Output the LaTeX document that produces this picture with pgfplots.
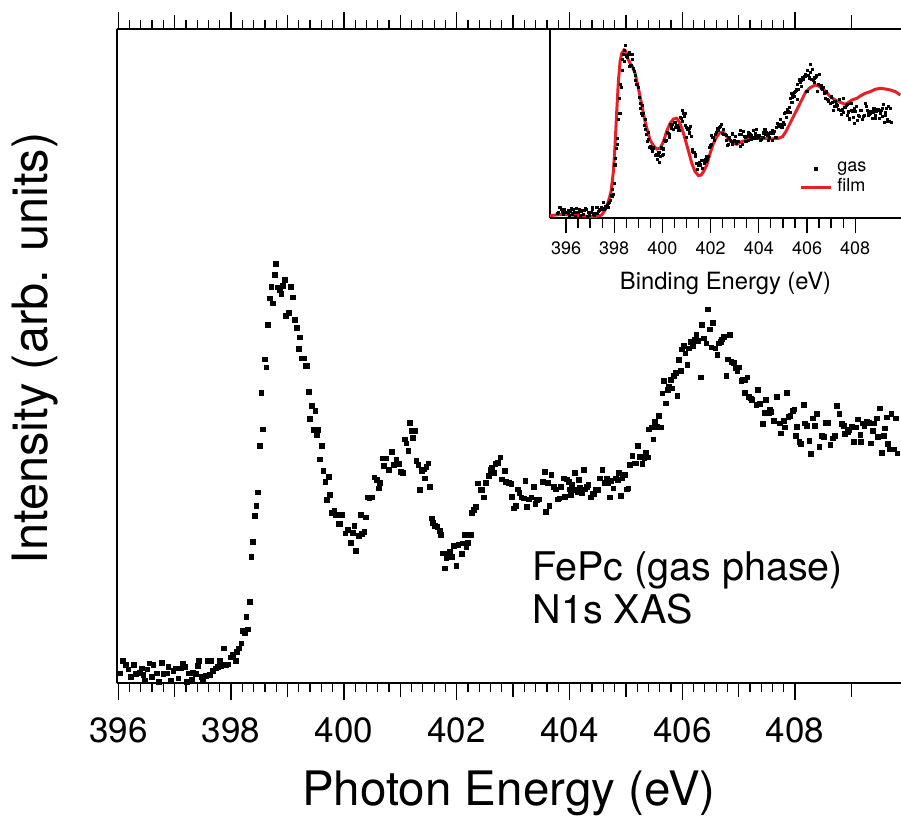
\documentclass[border=0pt]{standalone}
\usepackage{fontspec}
\setmainfont{TeX Gyre Heros}
\usepackage{pgfplots}
\usepackage{pgfplotstable}
\pgfplotsset{compat=1.18}
\definecolor{filmred}{RGB}{232,32,38}
\pgfplotsset{
  gaslegend/.style={legend image code/.code={%
    \draw[mark repeat=2, mark phase=2, ##1, mark size=0.6pt]
      plot coordinates {(0pt,0pt) (6pt,0pt) (12pt,0pt)};}},
  filmlegend/.style={legend image code/.code={%
    \draw[##1] (0pt,0pt) -- (12pt,0pt);}},
}

% gas-phase N1s XAS (photon energy, intensity)
\pgfplotstableread{
x y
395.965 0.070
396.035 0.097
396.082 0.223
396.141 0.180
396.183 0.137
396.224 0.063
396.283 0.180
396.318 0.090
396.389 0.103
396.418 0.147
396.448 0.080
396.477 0.023
396.518 0.137
396.554 0.197
396.595 0.063
396.624 0.180
396.683 0.097
396.724 0.010
396.771 0.203
396.801 0.090
396.860 0.097
396.889 0.163
396.930 0.023
396.978 0.123
397.025 0.147
397.066 0.047
397.107 0.147
397.143 0.197
397.184 0.163
397.225 0.010
397.260 0.097
397.302 0.030
397.331 0.103
397.378 0.090
397.419 0.170
397.437 0.223
397.478 0.063
397.508 0.023
397.555 0.070
397.596 0.223
397.625 0.080
397.655 0.223
397.684 0.123
397.731 0.147
397.773 0.163
397.802 0.223
397.832 0.170
397.873 0.347
397.908 0.180
397.949 0.187
397.991 0.257
398.038 0.280
398.085 0.223
398.108 0.313
398.144 0.347
398.185 0.397
398.214 0.523
398.244 0.497
398.273 0.663
398.303 0.537
398.332 0.813
398.362 1.263
398.391 1.413
398.420 1.673
398.450 1.773
398.479 1.907
398.509 2.373
398.538 2.903
398.568 2.537
398.597 3.237
398.627 3.157
398.656 3.580
398.686 3.847
398.715 3.963
398.744 3.797
398.774 4.080
398.803 4.190
398.833 3.957
398.862 3.930
398.892 3.890
398.921 3.970
398.951 4.030
398.980 3.670
399.027 3.703
399.068 3.963
399.098 3.857
399.133 3.630
399.168 3.553
399.204 3.340
399.227 3.457
399.263 3.247
399.292 3.247
399.322 3.173
399.345 3.173
399.375 2.913
399.404 2.640
399.434 2.773
399.463 2.530
399.498 2.720
399.522 2.480
399.551 2.530
399.580 2.237
399.616 2.370
399.640 2.123
399.675 2.013
399.698 1.830
399.734 2.063
399.757 1.880
399.793 1.703
399.834 1.723
399.863 1.680
399.910 1.590
399.934 1.590
399.969 1.680
400.028 1.497
400.070 1.530
400.128 1.403
400.158 1.503
400.187 1.570
400.217 1.323
400.264 1.470
400.305 1.680
400.323 1.490
400.364 1.513
400.393 1.657
400.423 1.857
400.452 1.847
400.499 1.857
400.541 2.057
400.582 2.030
400.617 1.947
400.641 2.003
400.688 2.247
400.717 2.170
400.747 2.247
400.806 2.130
400.853 2.313
400.894 2.180
400.935 2.230
400.982 2.190
401.012 2.113
401.053 2.103
401.088 2.437
401.112 2.397
401.147 2.323
401.171 2.603
401.206 2.523
401.230 2.453
401.265 2.523
401.288 2.223
401.324 2.180
401.347 1.930
401.382 2.123
401.424 2.137
401.442 2.047
401.465 2.163
401.501 2.197
401.524 1.963
401.560 1.647
401.583 1.603
401.618 1.570
401.660 1.563
401.702 1.523
401.719 1.480
401.760 1.297
401.795 1.147
401.819 1.247
401.854 1.290
401.878 1.313
401.913 1.263
401.954 1.370
401.996 1.170
402.031 1.380
402.090 1.290
402.114 1.397
402.148 1.480
402.172 1.363
402.207 1.403
402.249 1.480
402.278 1.703
402.307 1.730
402.349 1.763
402.384 1.997
402.425 1.930
402.455 1.930
402.484 1.857
402.525 2.003
402.572 2.070
402.602 2.130
402.631 2.157
402.661 2.103
402.690 2.190
402.737 2.203
402.779 2.257
402.808 2.037
402.855 2.123
402.879 2.013
402.926 2.003
402.973 1.990
402.985 1.863
403.014 1.747
403.055 1.770
403.091 1.937
403.114 1.903
403.149 1.857
403.191 1.847
403.220 2.023
403.250 1.763
403.279 1.837
403.326 1.857
403.367 1.963
403.397 1.790
403.426 1.830
403.468 1.837
403.527 2.013
403.562 2.113
403.585 1.713
403.620 2.003
403.644 1.770
403.679 2.080
403.721 1.963
403.762 1.937
403.797 1.837
403.821 1.847
403.856 1.963
403.897 2.047
403.915 1.863
403.956 2.037
403.986 2.013
403.998 1.937
404.033 1.880
404.045 1.980
404.092 2.103
404.104 1.930
404.151 1.913
404.174 2.030
404.192 1.957
404.221 1.903
404.251 2.130
404.280 1.937
404.310 1.963
404.339 1.980
404.386 1.857
404.410 1.897
404.445 1.890
404.468 1.937
404.516 1.930
404.545 2.047
404.586 2.130
404.622 2.003
404.663 2.047
404.692 1.997
404.722 1.857
404.739 2.023
404.781 1.947
404.822 2.047
404.857 2.030
404.881 2.103
404.916 1.870
404.940 2.047
404.987 2.080
405.016 1.937
405.046 1.947
405.075 2.180
405.117 2.270
405.152 2.197
405.175 2.197
405.211 2.370
405.252 2.263
405.293 2.190
405.329 2.247
405.352 2.303
405.387 2.257
405.411 2.537
405.458 2.557
405.488 2.437
405.517 2.613
405.547 2.563
405.588 2.670
405.623 2.557
405.647 2.897
405.682 3.023
405.706 2.797
405.741 2.930
405.764 2.963
405.800 3.030
405.823 2.947
405.859 3.070
405.882 3.103
405.917 2.870
405.941 3.230
405.976 3.123
406.000 3.337
406.035 3.370
406.058 3.297
406.094 3.180
406.117 3.347
406.153 3.413
406.194 3.370
406.223 3.430
406.253 3.480
406.282 3.423
406.329 3.057
406.353 3.580
406.388 3.447
406.429 3.397
406.459 3.737
406.488 3.537
406.517 3.357
406.547 3.603
406.588 3.347
406.623 3.280
406.648 3.397
406.683 3.413
406.707 3.437
406.742 3.463
406.783 3.070
406.813 3.237
406.842 3.480
406.872 3.213
406.919 3.203
406.943 3.147
406.978 3.123
407.001 3.157
407.048 3.023
407.078 3.037
407.107 2.903
407.119 3.030
407.154 3.057
407.178 2.863
407.213 2.847
407.237 2.830
407.314 2.780
407.343 2.930
407.372 2.790
407.431 2.590
407.472 2.703
407.490 2.830
407.531 2.703
407.549 2.737
407.578 2.713
407.625 2.623
407.684 2.863
407.726 2.597
407.755 2.497
407.802 2.623
407.826 2.557
407.861 2.903
407.885 2.663
407.920 2.670
407.961 2.723
407.991 2.737
408.020 2.470
408.038 2.563
408.079 2.413
408.109 2.390
408.156 2.780
408.180 2.597
408.215 2.570
408.256 2.423
408.286 2.290
408.315 2.647
408.357 2.570
408.392 2.690
408.433 2.363
408.474 2.470
408.510 2.463
408.551 2.603
408.592 2.603
408.628 2.380
408.669 2.447
408.710 2.470
408.746 2.770
408.787 2.690
408.828 2.590
408.864 2.570
408.887 2.490
408.934 2.513
408.964 2.530
409.005 2.563
409.040 2.413
409.081 2.557
409.111 2.637
409.158 2.480
409.170 2.413
409.199 2.597
409.229 2.570
409.276 2.613
409.317 2.603
409.346 2.397
409.376 2.523
409.405 2.597
409.452 2.647
409.476 2.463
409.500 2.747
409.535 2.303
409.570 2.470
409.594 2.547
409.629 2.657
409.653 2.390
409.688 2.337
409.711 2.690
409.747 2.337
409.788 2.647
409.817 2.297
}\gasdata

% film spectrum (binding energy, intensity), inset
\pgfplotstableread{
x y
395.336 0.023
395.820 0.055
396.512 0.023
397.204 0.000
397.481 0.039
397.620 0.162
397.758 0.366
397.869 0.611
397.966 1.101
398.035 1.755
398.104 2.572
398.173 3.307
398.243 3.797
398.312 4.001
398.409 4.083
398.478 4.058
398.561 3.879
398.658 3.756
398.755 3.674
398.865 3.511
398.976 3.225
399.073 2.939
399.170 2.653
399.281 2.326
399.392 2.081
399.489 1.877
399.627 1.738
399.765 1.656
399.904 1.673
400.042 1.836
400.180 2.097
400.319 2.285
400.457 2.392
400.596 2.408
400.693 2.326
400.803 2.163
400.914 1.959
401.011 1.754
401.108 1.550
401.219 1.305
401.357 1.101
401.496 1.003
401.606 1.019
401.703 1.101
401.842 1.264
401.980 1.550
402.118 1.795
402.257 1.959
402.395 2.065
402.534 2.065
402.672 1.959
402.810 1.852
402.949 1.795
403.087 1.771
403.226 1.820
403.364 1.852
403.503 1.877
403.710 1.918
403.987 1.918
404.264 1.918
404.541 1.902
404.818 1.918
404.984 1.959
405.122 2.081
405.261 2.245
405.399 2.408
405.538 2.572
405.676 2.735
405.814 2.899
405.953 3.062
406.133 3.160
406.341 3.225
406.479 3.200
406.617 3.143
406.784 3.062
406.963 2.939
407.171 2.857
407.379 2.800
407.586 2.751
407.725 2.800
407.863 2.857
408.071 2.898
408.209 2.955
408.417 3.021
408.625 3.062
408.832 3.119
409.040 3.143
409.248 3.127
409.456 3.103
409.663 3.062
409.870 2.980
}\filmdata

\begin{document}
\begin{tikzpicture}
% main spectrum: left and bottom lines
\begin{axis}[
  at={(0pt,0pt)}, anchor=south west,
  scale only axis, width=313.72pt, height=261.6pt,
  xmin=395.972, xmax=409.878, ymin=0, ymax=6.54,
  axis x line*=bottom, axis y line*=left,
  axis line style={-, line width=0.8pt},
  tick align=outside,
  xtick={396,398,...,408}, minor x tick num=9,
  extra x ticks={397,399,...,409}, extra x tick labels={},
  extra x tick style={major tick length=5.6pt},
  major tick length=6.8pt, minor tick length=3.6pt,
  every tick/.style={black, line width=0.5pt},
  ytick=\empty,
  /pgf/number format/assume math mode=true,
  xticklabel style={font=\fontsize{14}{16}\selectfont, yshift=-3.6pt},
  xlabel={Photon Energy (eV)},
  ylabel={Intensity (arb. units)},
  xlabel style={at={(axis description cs:0.5,-0.168)}, anchor=center,
                font=\fontsize{19}{22}\selectfont},
  ylabel style={at={(axis description cs:-0.1042,0.512)}, anchor=center,
                font=\fontsize{19.5}{22}\selectfont},
]
\addplot[only marks, mark=square*, mark size=0.95pt, black] table[x=x, y=y] {\gasdata};
\node[anchor=base west, font=\fontsize{15.8}{18}\selectfont, inner sep=0pt]
  at (axis cs:403.336,1.03) {FePc (gas phase)};
\node[anchor=base west, font=\fontsize{15.8}{18}\selectfont, inner sep=0pt]
  at (axis cs:403.336,0.60) {N1s XAS};
\end{axis}
% main spectrum: top line with its ticks
\begin{axis}[
  at={(0pt,0pt)}, anchor=south west,
  scale only axis, width=313.72pt, height=261.6pt,
  xmin=395.972, xmax=409.878, ymin=0, ymax=6.54,
  axis x line*=top, axis y line=none,
  axis line style={-, line width=0.8pt},
  tick align=outside,
  xtick={396,398,...,408}, minor x tick num=9,
  extra x ticks={397,399,...,409}, extra x tick labels={},
  extra x tick style={major tick length=5.6pt},
  major tick length=6.8pt, minor tick length=3.6pt,
  every tick/.style={black, line width=0.5pt},
  xticklabels={}, ytick=\empty,
]
\end{axis}
% inset: gas vs film
\begin{axis}[
  at={(173.32pt,186pt)}, anchor=south west,
  scale only axis, width=140.4pt, height=75.6pt,
  xmin=395.336, xmax=409.90, ymin=-0.042, ymax=4.59,
  axis x line*=bottom, axis y line*=left,
  axis line style={-, line width=0.8pt},
  tick align=outside,
  xtick={396,398,...,408}, minor x tick num=3,
  major tick length=6pt, minor tick length=4pt,
  every tick/.style={black, line width=0.5pt},
  ytick=\empty,
  /pgf/number format/assume math mode=true,
  xticklabel style={font=\fontsize{7.2}{8}\selectfont, yshift=0pt},
  xlabel={Binding Energy (eV)},
  xlabel style={at={(axis description cs:0.5,-0.344)}, anchor=center,
                font=\fontsize{9.5}{11}\selectfont},
  legend style={draw=none, fill=none, inner sep=0pt, at={(0.709,0.209)},
                anchor=west, font=\fontsize{7.2}{8}\selectfont, row sep=-2.7pt},
  legend cell align=left,
]
\addplot[only marks, mark=square*, mark size=0.42pt, black, gaslegend]
  table[x expr=\thisrow{x}-0.33, y=y] {\gasdata};
\addlegendentry{gas}
\addplot[filmred, line width=1.2pt, no marks, filmlegend]
  table[x=x, y=y] {\filmdata};
\addlegendentry{film}
\end{axis}
\pgfresetboundingbox
\path[use as bounding box] (-46.68pt,-54.68pt) rectangle (313.72pt,273.32pt);
\end{tikzpicture}
\end{document}
